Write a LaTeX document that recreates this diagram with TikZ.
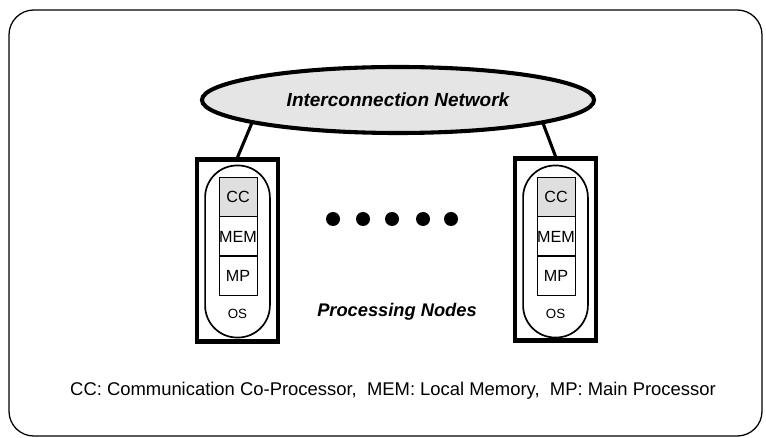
\documentclass[tikz,border=0pt]{standalone}
\usepackage{fontspec}
\setmainfont{Liberation Sans}
\setsansfont{Liberation Sans}
\usetikzlibrary{shapes.geometric}
\newcommand{\bi}[0]{\bfseries\itshape}

\begin{document}
\begin{tikzpicture}[x=0.025cm,y=-0.025cm,
    netcloud/.style={ellipse, draw, line width=2.9pt, fill=gray!20, minimum width=9.8cm, minimum height=1.65cm, inner sep=0pt},
    pbox/.style={draw, line width=3pt, minimum width=2.03cm, minimum height=4.55cm},
    pill/.style={draw, line width=1.2pt, rounded corners=0.8cm, minimum width=1.62cm, minimum height=4.3cm},
    unit/.style={draw, line width=0.7pt, minimum width=0.95cm, minimum height=0.98cm, inner sep=0pt, font=\fontsize{11.5}{13}\selectfont},
    link/.style={line width=2.2pt}]
    \useasboundingbox (0,0) rectangle (766,438);
    \draw[rounded corners=0.62cm, line width=0.9pt] (9,10) rectangle (762,436);

    % links first, the network covers their upper ends
    \coordinate (NetL) at (254,118);
    \coordinate (NetR) at (541,118);

    \node[pbox] (NodeL) at (237.5,250.5) {};
    \node[pill] (OSL) at (237.5,251.5) {};
    \node[unit, fill=gray!25] (CCL) at (238,197) {CC};
    \node[unit] (MEML) at (238,236.5) {MEM};
    \node[unit] (MPL) at (238,275.5) {MP};
    \node[font=\fontsize{9.5}{11}\selectfont] (OSLabelL) at (237.5,314) {OS};

    \node[pbox] (NodeR) at (555.5,249.5) {};
    \node[pill] (OSR) at (555.5,251.5) {};
    \node[unit, fill=gray!25] (CCR) at (556,197) {CC};
    \node[unit] (MEMR) at (556,236.5) {MEM};
    \node[unit] (MPR) at (556,275.5) {MP};
    \node[font=\fontsize{9.5}{11}\selectfont] (OSLabelR) at (555.5,314) {OS};

    \draw[link] (NetL)--(NodeL.north);
    \draw[link] (NetR)--(NodeR.north);

    \node[netcloud] (Net) at (398,100) {\fontsize{13.5}{16}\selectfont\bi Interconnection Network};

    \foreach \x in {333,363,392,423,451}
        \fill (\x,219) circle (0.175cm);

    \node[font=\fontsize{13}{15}\selectfont\bi] (PNodes) at (397,312) {Processing Nodes};
    \node[font=\fontsize{13.1}{15}\selectfont] (Legend) at (393,391) {CC: Communication Co-Processor,\ \ MEM: Local Memory,\ \ MP: Main Processor};
\end{tikzpicture}
\end{document}
